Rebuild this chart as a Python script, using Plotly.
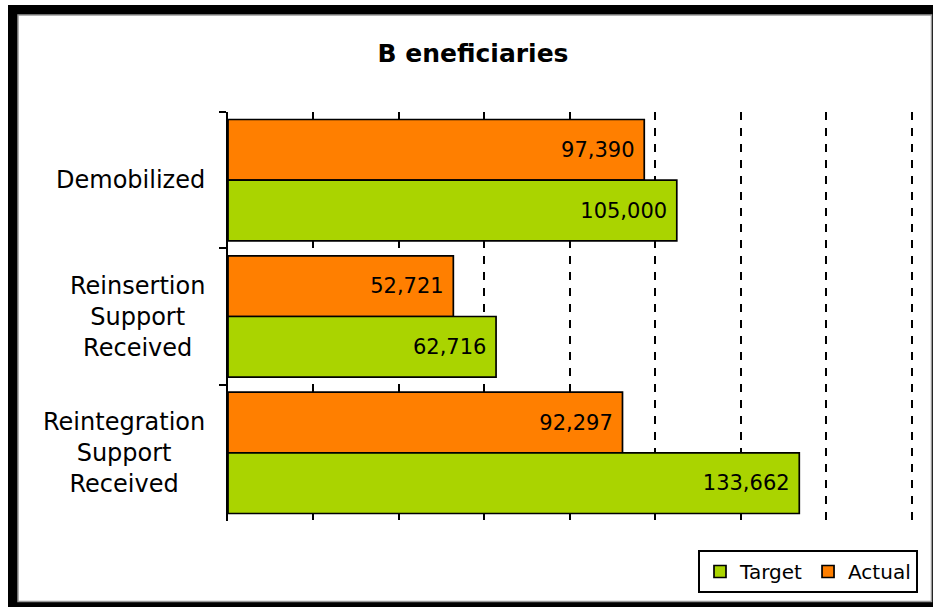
import plotly.graph_objects as go

categories = ["Demobilized", "Reinsertion Support Received", "Reintegration Support Received"]
category_labels = ["Demobilized", "Reinsertion<br>Support<br>Received", "Reintegration<br>Support<br>Received"]
actual = [97390, 52721, 92297]
target = [105000, 62716, 133662]

X_MAX = 160000
X_RANGE_MAX = 160500
W, H = 933, 607
L, T, B = 228, 112, 86
PX_FULL = 912 - L  # pixels for X_MAX
pw = round(PX_FULL * X_RANGE_MAX / X_MAX)
R = W - L - pw
ph = H - T - B

def px_x(x):
    return (x - L) / pw

def px_y(y):
    return (H - B - y) / ph

FONT = "DejaVu Sans"
ORANGE = "#FF7F00"
GREEN = "#AAD400"

fig = go.Figure()
fig.add_trace(go.Bar(
    name="Actual", y=categories, x=actual, orientation="h",
    marker=dict(color=ORANGE, line=dict(color="black", width=1.7)),
    texttemplate="%{x:,}\u00a0", textposition="inside", insidetextanchor="end",
    textfont=dict(family=FONT, size=21, color="black"),
    legendrank=2, hoverinfo="skip",
))
fig.add_trace(go.Bar(
    name="Target", y=categories, x=target, orientation="h",
    marker=dict(color=GREEN, line=dict(color="black", width=1.7)),
    texttemplate="%{x:,}\u00a0", textposition="inside", insidetextanchor="end",
    textfont=dict(family=FONT, size=21, color="black"),
    legendrank=1, hoverinfo="skip",
))

for cat, lab in zip(categories, category_labels):
    fig.add_annotation(
        x=0, xref="paper", y=cat, yref="y", text=lab, showarrow=False,
        xanchor="right", yanchor="middle", align="center", xshift=-21,
        font=dict(family=FONT, size=24, color="black"),
    )

shapes = [
    dict(type="rect", xref="paper", yref="paper", layer="below",
         x0=px_x(8), x1=px_x(940), y0=px_y(5), y1=px_y(615),
         fillcolor="black", line=dict(width=0)),
    dict(type="rect", xref="paper", yref="paper", layer="below",
         x0=px_x(18), x1=px_x(931.5), y0=px_y(15), y1=px_y(601.5),
         fillcolor="white", line=dict(color="#999999", width=1.5)),
]

fig.update_layout(
    width=W, height=H,
    margin=dict(l=L, r=R, t=T, b=B, pad=0),
    paper_bgcolor="white", plot_bgcolor="rgba(0,0,0,0)",
    barmode="group", bargap=0.11, bargroupgap=0,
    shapes=shapes,
    title=dict(text="B eneficiaries", x=473 / W, xref="container", xanchor="center",
               y=1 - 53 / H, yref="container", yanchor="middle",
               font=dict(family=FONT, size=25, color="black", weight="bold")),
    xaxis=dict(range=[0, X_RANGE_MAX], dtick=20000, tick0=0, showticklabels=False,
               showgrid=True, gridcolor="black", gridwidth=2, griddash="8px,8px",
               zeroline=False, showline=False, ticks=""),
    yaxis=dict(autorange="reversed", showticklabels=False, showgrid=False,
               showline=True, linecolor="black", linewidth=2,
               ticks="outside", tickson="boundaries", ticklen=7, tickwidth=2,
               tickcolor="black", zeroline=False),
    legend=dict(orientation="h", x=px_x(918), xanchor="right", y=px_y(593), yanchor="bottom",
                bordercolor="black", borderwidth=2, bgcolor="white",
                font=dict(family=FONT, size=20, color="black"),
                itemwidth=30, tracegroupgap=0),
    showlegend=True,
)

fig.write_html(
    "out.html",
    config={"displayModeBar": False},
    post_script="document.body.style.margin='0';document.body.style.padding='0';"
                "document.documentElement.style.overflow='hidden';",
)
